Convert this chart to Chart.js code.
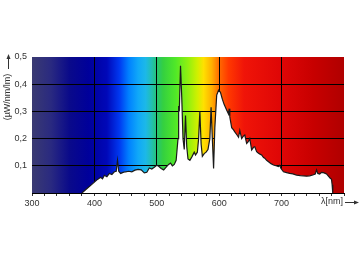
<!DOCTYPE html>
<html>
<head>
<meta charset="utf-8">
<script src="https://cdn.jsdelivr.net/npm/chart.js@4/dist/chart.umd.min.js"></script>
<style>
  html, body { margin: 0; padding: 0; background: #fff; }
  #wrap { width: 360px; height: 262px; }
</style>
</head>
<body>
<div id="wrap"><canvas id="spectrum" width="360" height="262"></canvas></div>
<script>
// wavelengths (nm) and relative spectral power (µW/nm/lm)
const wavelengths = [380, 385, 390, 395, 400, 405, 410, 413, 416, 420, 424, 428, 432, 435, 437, 439, 442, 446, 450, 455,
  460, 465, 470, 475, 480, 484, 488, 492, 496, 500, 503, 507, 511, 515, 519, 522, 525, 528, 531, 534,
  535, 536, 538, 540, 542, 544, 546, 548, 550, 553, 556, 560, 562, 565, 567, 569, 571, 573, 576, 579,
  582, 585, 587, 589, 591, 593, 596, 599, 602, 605, 608, 611, 613, 615, 616, 617, 620, 623, 625, 628,
  631, 633, 636, 639, 641, 644, 647, 649, 652, 655, 657, 660, 663, 666, 668, 671, 673, 676, 679, 683,
  687, 691, 695, 697, 699, 703, 708, 713, 718, 724, 730, 735, 740, 745, 750, 754, 756, 758, 761, 764,
  767, 770, 772, 775, 778, 780, 781, 782];
const power = [0, 0.01, 0.02, 0.03, 0.04, 0.05, 0.058, 0.052, 0.065, 0.06, 0.072, 0.068, 0.078, 0.08, 0.12, 0.08, 0.072, 0.076, 0.078, 0.08,
  0.078, 0.084, 0.087, 0.085, 0.074, 0.076, 0.092, 0.088, 0.095, 0.102, 0.098, 0.09, 0.085, 0.095, 0.105, 0.11, 0.1, 0.105, 0.12, 0.2,
  0.32, 0.3, 0.468, 0.35, 0.2, 0.16, 0.285, 0.17, 0.125, 0.12, 0.132, 0.15, 0.14, 0.15, 0.2, 0.30, 0.18, 0.135, 0.145, 0.15,
  0.16, 0.2, 0.315, 0.2, 0.09, 0.24, 0.36, 0.378, 0.37, 0.345, 0.325, 0.31, 0.30, 0.29, 0.31, 0.28, 0.24, 0.232, 0.225, 0.215,
  0.205, 0.23, 0.2, 0.21, 0.213, 0.182, 0.19, 0.2, 0.158, 0.168, 0.17, 0.152, 0.146, 0.142, 0.14, 0.13, 0.128, 0.12, 0.115, 0.108,
  0.103, 0.1, 0.097, 0.102, 0.09, 0.078, 0.075, 0.072, 0.07, 0.066, 0.064, 0.063, 0.062, 0.063, 0.066, 0.07, 0.085, 0.072, 0.07, 0.076,
  0.075, 0.072, 0.07, 0.062, 0.054, 0.05, 0.03, 0];
const xTicks = [300, 400, 500, 600, 700];
const yTicks = [0.1, 0.2, 0.3, 0.4, 0.5];

// rainbow behind the curve
const spectrumStops = [
  [300, '#3a3a72'], [330, '#2a2a80'], [360, '#0a0a8a'], [390, '#00009a'], [420, '#0008b8'],
  [440, '#0038f0'], [455, '#0080ff'], [470, '#10a8f8'], [482, '#1cb8e8'], [492, '#22c0b0'],
  [500, '#26c474'], [510, '#34d040'], [530, '#50e828'], [550, '#90f010'], [565, '#d0f000'],
  [575, '#ffe000'], [588, '#ffb000'], [600, '#ff6a00'], [615, '#ff3800'], [640, '#f01408'],
  [700, '#de0606'], [750, '#c80000'], [800, '#b00000']
];

const rainbowBg = {
  id: 'rainbowBg',
  beforeDraw(chart) {
    const { ctx, chartArea } = chart;
    const g = ctx.createLinearGradient(chartArea.left, 0, chartArea.right, 0);
    spectrumStops.forEach(s => g.addColorStop((s[0] - 300) / 500, s[1]));
    ctx.save();
    ctx.fillStyle = g;
    ctx.fillRect(chartArea.left, chartArea.top, chartArea.right - chartArea.left, chartArea.bottom - chartArea.top);
    ctx.restore();
  }
};

// axis titles with arrows
const axisTitles = {
  id: 'axisTitles',
  afterDraw(chart) {
    const { ctx, chartArea } = chart;
    ctx.save();
    ctx.fillStyle = '#333';
    ctx.strokeStyle = '#333';
    ctx.lineWidth = 1;
    ctx.font = '9px Arial, "Liberation Sans", sans-serif';
    // x title
    const ty = chartArea.bottom + 9;
    ctx.textAlign = 'right';
    ctx.textBaseline = 'middle';
    ctx.fillText('λ[nm]', chartArea.right - 1, ty);
    ctx.beginPath();
    ctx.moveTo(chartArea.right + 1, ty + 0.5);
    ctx.lineTo(357, ty + 0.5);
    ctx.stroke();
    ctx.beginPath();
    ctx.moveTo(359, ty + 0.5);
    ctx.lineTo(354, ty - 1.5);
    ctx.lineTo(354, ty + 2.5);
    ctx.closePath();
    ctx.fill();
    // y title
    ctx.translate(8, 97);
    ctx.rotate(-Math.PI / 2);
    ctx.textAlign = 'center';
    ctx.fillText('(µW/nm/lm)', 0, 0);
    ctx.beginPath();
    ctx.moveTo(28, 0.5);
    ctx.lineTo(40, 0.5);
    ctx.stroke();
    ctx.beginPath();
    ctx.moveTo(43, 0.5);
    ctx.lineTo(38, -1.5);
    ctx.lineTo(38, 2.5);
    ctx.closePath();
    ctx.fill();
    ctx.restore();
  }
};

const ctx = document.getElementById('spectrum').getContext('2d');
new Chart(ctx, {
  type: 'line',
  data: {
    datasets: [{
      data: wavelengths.map((w, i) => ({ x: w, y: power[i] })),
      borderColor: '#1a1a1a',
      borderWidth: 1.2,
      pointRadius: 0,
      tension: 0,
      fill: 'origin',
      backgroundColor: '#ffffff'
    }]
  },
  options: {
    responsive: false,
    animation: false,
    events: [],
    layout: { padding: { top: 57, right: 16, left: 0, bottom: 0 } },
    plugins: { legend: { display: false }, tooltip: { enabled: false } },
    scales: {
      x: {
        type: 'linear',
        min: 300,
        max: 800,
        afterFit: s => { s.height = 69; },
        afterBuildTicks: s => {
          s.ticks = [];
          for (let v = 300; v <= 800; v += 20) s.ticks.push({ value: v });
        },
        border: { color: '#000', width: 1 },
        grid: {
          color: c => (c.tick && xTicks.includes(c.tick.value) && c.tick.value > 300) ? '#000' : 'rgba(0,0,0,0)',
          tickColor: '#333',
          tickLength: 3,
          lineWidth: 1
        },
        ticks: {
          autoSkip: false,
          maxRotation: 0,
          padding: 2,
          color: '#333',
          font: { family: 'Arial, "Liberation Sans", sans-serif', size: 9 },
          callback: v => xTicks.includes(v) ? String(v) : ''
        }
      },
      y: {
        min: 0,
        max: 0.5,
        afterFit: s => { s.width = 32; },
        afterBuildTicks: s => {
          s.ticks = [{ value: 0 }].concat(yTicks.map(v => ({ value: v })));
        },
        border: { display: false },
        grid: {
          color: c => (c.tick && c.tick.value > 0 && c.tick.value < 0.5) ? '#000' : 'rgba(0,0,0,0)',
          drawTicks: false,
          lineWidth: 1
        },
        ticks: {
          padding: 5,
          color: '#333',
          font: { family: 'Arial, "Liberation Sans", sans-serif', size: 9 },
          callback: v => v === 0 ? '' : v.toFixed(1).replace('.', ',')
        }
      }
    }
  },
  plugins: [rainbowBg, axisTitles]
});
</script>
</body>
</html>
